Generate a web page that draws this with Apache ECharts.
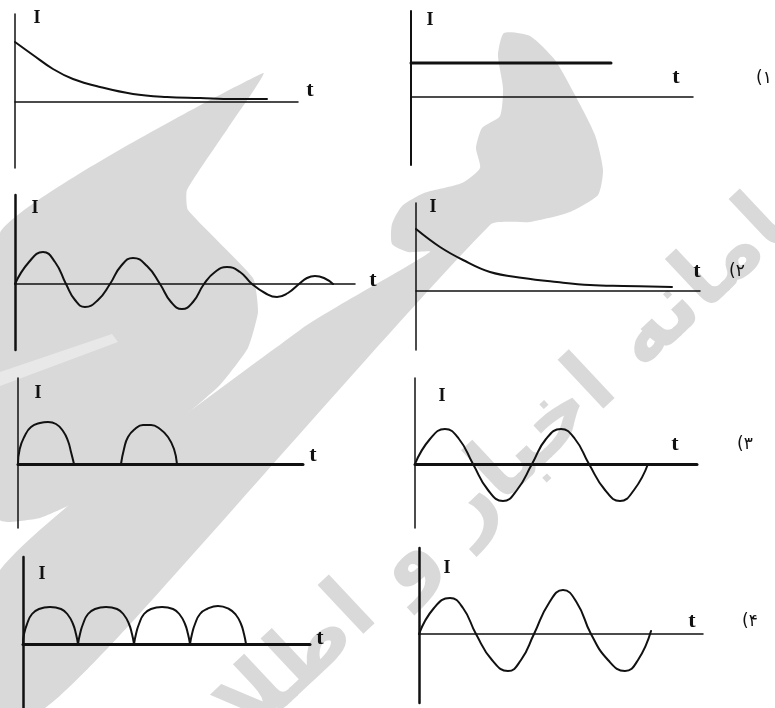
<!DOCTYPE html>
<html><head><meta charset="utf-8">
<script src="https://cdn.jsdelivr.net/npm/echarts@6/dist/echarts.min.js"></script>
<style>html,body{margin:0;padding:0;background:#fff}#c{width:775px;height:708px}</style>
</head><body><div id="c"></div>
<script>
// ---- labels ----
const currentLabel = 'I';
const timeLabel = 't';
const optionTags = ['(۱', '(۲', '(۳', '(۴'];
const watermarkText = 'سامانه اخبار و اطلاع';

// ---- data (t, I) ----
const decayFirst = [[0,60],[18,47],[38,33],[58,23],[85,15],[118,8],[152,5],[185,4],[218,3],[252,3]];
const constantLevel = [[0,34],[200,34]];
const dampedWave = [[0,0],[14,22],[28,32],[40,22],[51,0],[60,-16],[70,-23],[83,-16],[95,0],[106,18],[118,26],[132,18],[145,0],[156,-18],[167,-25],[178,-18],[189,0],[200,12],[212,17],[225,12],[237,0],[250,-9],[262,-13],[273,-9],[284,0],[292,6],[300,8],[309,6],[318,0]];
const decaySecond = [[0,62],[24,44],[47,31],[74,19],[107,13],[141,9],[174,6],[207,5],[256,4]];
const halfWaveHumps = [
  [[0,0],[1.7,15],[6.7,28],[13,37],[22,41],[30,42],[38,40],[45,33],[50,23],[53,12],[56,0]],
  [[103,0],[106,15],[110,27],[117,35],[125,39],[133,39],[142,35],[150,27],[156,15],[159,0]]
];
const sineEqual = [[0,0],[15,25],[30,35],[44,25],[58,0],[73,-26],[88,-37],[102,-26],[117,0],[131,25],[146,35],[160,25],[174,0],[190,-26],[205,-37],[219,-26],[233,0]];
const fullWaveHumps = [
  [[0,0],[1,10],[4,20],[9,30],[16,35],[27,37],[38,35],[45,29],[50,20],[53,10],[55,0]],
  [[55,0],[57,10],[60,20],[65,30],[72,35],[83,37],[94,35],[101,29],[106,20],[109,10],[111,0]],
  [[111,0],[113,10],[116,20],[121,30],[128,35],[139,37],[150,35],[157,29],[162,20],[165,10],[167,0]],
  [[167,0],[169,10],[172,20],[177,30],[184,35],[195,38],[206,35],[213,29],[218,20],[221,10],[223,0]]
];
const sineGrowing = [[0,0],[15,26],[31,36],[44,26],[57,0],[73,-26],[89,-37],[102,-26],[115,0],[130,31],[144,44],[158,31],[172,0],[189,-26],[206,-37],[219,-26],[232,3]];

// ---- layout (pixels) ----
const panels = [
  {ax:15,  top:14,  right:298, bottom:168, zero:102, vW:1.5, hW:1.5, lines:[decayFirst], lw:2, smooth:0.4,
   I:[37,18], t:[310,90]},
  {ax:411, top:11,  right:693, bottom:165, zero:97,  vW:2,   hW:1.5, lines:[constantLevel], lw:3, smooth:0,
   I:[430,20], t:[676,77], tag:[764,79,0]},
  {ax:15,  top:195, right:355, bottom:350, zero:284, vW:2.5, hW:1.5, lines:[dampedWave], lw:2, smooth:0.5,
   I:[35,208], t:[373,280]},
  {ax:416, top:203, right:700, bottom:350, zero:291, vW:1.5, hW:1.5, lines:[decaySecond], lw:2, smooth:0.4,
   I:[433,207], t:[697,271], tag:[737,272,1]},
  {ax:18,  top:378, right:303, bottom:528, zero:464, vW:1.5, hW:3, lines:halfWaveHumps, lw:2, smooth:0.5,
   I:[38,393], t:[313,455]},
  {ax:415, top:378, right:697, bottom:528, zero:464, vW:1.5, hW:3, lines:[sineEqual], lw:2, smooth:0.5,
   I:[442,396], t:[675,444], tag:[745,445,2]},
  {ax:23,  top:557, right:310, bottom:708, zero:644, vW:2.5, hW:3, lines:fullWaveHumps, lw:2, smooth:0.5,
   I:[42,574], t:[320,638]},
  {ax:419, top:548, right:703, bottom:703, zero:634, vW:2.5, hW:1.5, lines:[sineGrowing], lw:2, smooth:0.5,
   I:[447,568], t:[692,621], tag:[750,622,3]}
];

const ink = '#111';
const grids = [], xAxes = [], yAxes = [], series = [], graphics = [];

// watermark (decoration behind the plots)
const wm = '#d9d9d9';
graphics.push({type:'polygon', z:-10, silent:true,
  shape:{smooth:0.15, points:[[263,73],[228,128],[187,190],[188,210],[253,278],[258,312],[248,348],[220,385],[180,420],[130,465],[80,500],[40,518],[10,522],[0,520],[0,233]]},
  style:{fill:wm}});
graphics.push({type:'polygon', z:-9, silent:true,
  shape:{points:[[0,372],[112,334],[118,342],[0,386]]}, style:{fill:'#e8e8e8'}});
graphics.push({type:'polygon', z:-10, silent:true,
  shape:{smooth:0.2, points:[[504,33],[530,36],[555,60],[575,95],[595,135],[603,170],[598,195],[570,212],[530,222],[490,225],
    [134,620],[45,708],[0,708],[0,570],[300,330],[430,252],[408,252],[392,244],[392,224],[402,206],[424,193],[462,183],[480,168],[476,148],[482,128],[500,116],[503,88],[498,55]]},
  style:{fill:wm}});
graphics.push({type:'text', z:-10, silent:true, x:515, y:460, rotation:Math.PI*0.24,
  style:{text:watermarkText, fill:wm, font:'bold 88px "DejaVu Sans"', align:'center', verticalAlign:'middle'}});

panels.forEach((p, i) => {
  const w = p.right - p.ax, h = p.bottom - p.top;
  grids.push({left:p.ax, top:p.top, width:w, height:h, containLabel:false});
  xAxes.push({type:'value', gridIndex:i, min:0, max:w,
    axisLine:{show:true, onZero:true, lineStyle:{color:ink, width:p.hW}},
    axisTick:{show:false}, axisLabel:{show:false}, splitLine:{show:false}});
  yAxes.push({type:'value', gridIndex:i, min:-(p.bottom - p.zero), max:p.zero - p.top,
    axisLine:{show:true, onZero:true, lineStyle:{color:ink, width:p.vW}},
    axisTick:{show:false}, axisLabel:{show:false}, splitLine:{show:false}});
  p.lines.forEach(d => series.push({type:'line', xAxisIndex:i, yAxisIndex:i, data:d,
    smooth:p.smooth, showSymbol:false, silent:true, z:3,
    lineStyle:{color:ink, width:p.lw, cap:'round', join:'round'}}));
  graphics.push({type:'text', x:p.I[0], y:p.I[1], z:5,
    style:{text:currentLabel, fill:ink, font:'bold 18px "Liberation Serif"', align:'center', verticalAlign:'middle'}});
  graphics.push({type:'text', x:p.t[0], y:p.t[1], z:5,
    style:{text:timeLabel, fill:ink, font:'bold 22px "Liberation Serif"', align:'center', verticalAlign:'middle'}});
  if (p.tag) graphics.push({type:'text', x:p.tag[0], y:p.tag[1], z:5,
    style:{text:optionTags[p.tag[2]], fill:ink, font:'17px "DejaVu Sans"', align:'center', verticalAlign:'middle'}});
});

const chart = echarts.init(document.getElementById('c'), null, {renderer:'canvas'});
chart.setOption({animation:false, backgroundColor:'#fff', grid:grids, xAxis:xAxes, yAxis:yAxes, series:series, graphic:graphics});
</script></body></html>
